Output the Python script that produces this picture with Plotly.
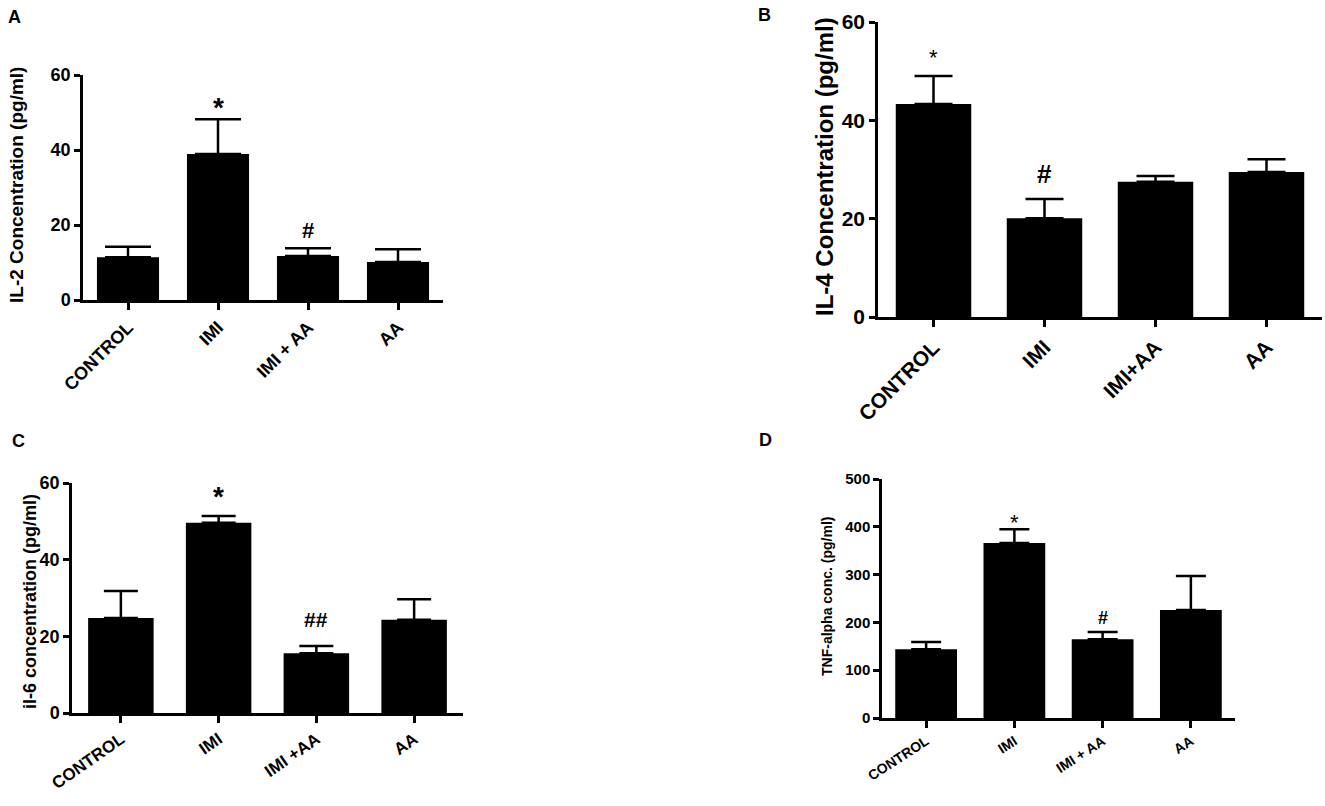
import plotly.graph_objects as go

# group labels (as printed under each panel)
groups_a = ["CONTROL", "IMI", "IMI + AA", "AA"]
groups_b = ["CONTROL", "IMI", "IMI+AA", "AA"]
groups_c = ["CONTROL", "IMI", "IMI +AA", "AA"]
groups_d = ["CONTROL", "IMI", "IMI + AA", "AA"]

# mean values and SEM
il2_mean = [11.4, 38.9, 11.7, 10.1]
il2_sem = [2.8, 9.3, 2.1, 3.4]
il4_mean = [43.3, 20.1, 27.5, 29.5]
il4_sem = [5.7, 3.9, 1.2, 2.6]
il6_mean = [24.8, 49.6, 15.6, 24.3]
il6_sem = [7.0, 1.8, 1.9, 5.4]
tnf_mean = [144, 366, 165, 226]
tnf_sem = [15, 29, 15, 71]

# significance marks
marks_a = ["", "*", "#", ""]
marks_b = ["*", "#", "", ""]
marks_c = ["", "*", "##", ""]
marks_d = ["", "*", "#", ""]

W, H = 1325, 806
FONT = "Liberation Sans, Arial, sans-serif"


def dom_x(a, b):
    return [a / W, b / W]


def dom_y(top, bottom):
    return [1 - bottom / H, 1 - top / H]


# panel settings: pixel box of the axes, fonts, bar width, error cap width
panels = [
    dict(groups=groups_a, mean=il2_mean, sem=il2_sem, marks=marks_a, box=(83, 443, 75, 300),
         ymax=60, dtick=20, title="IL-2 Concentration (pg/ml)", title_xy=(16, 185), title_size=19,
         ytick=18, xtick=18, angle=-45, bw=0.69, cap=23, mark_size=(28, 22), mark_shift=(-6, 3),
         letter="A", letter_xy=(15, 17)),
    dict(groups=groups_b, mean=il4_mean, sem=il4_sem, marks=marks_b, box=(878, 1322, 22, 317),
         ymax=60, dtick=20, title="IL-4 Concentration (pg/ml)", title_xy=(824, 167), title_size=24,
         ytick=21, xtick=21, angle=-45, bw=0.68, cap=19, mark_size=(22, 26), mark_shift=(4, 8),
         letter="B", letter_xy=(764, 15)),
    dict(groups=groups_c, mean=il6_mean, sem=il6_sem, marks=marks_c, box=(72, 463, 483, 713),
         ymax=60, dtick=20, title="il-6 concentration (pg/ml)", title_xy=(30, 602), title_size=18,
         ytick=18, xtick=17, angle=-35, bw=0.67, cap=17, mark_size=(28, 21), mark_shift=(2, 13),
         letter="C", letter_xy=(18, 441)),
    dict(groups=groups_d, mean=tnf_mean, sem=tnf_sem, marks=marks_d, box=(882, 1235, 479, 718),
         ymax=500, dtick=100, title="TNF-alpha conc. (pg/ml)", title_xy=(827, 597), title_size=14,
         ytick=15, xtick=14, angle=-33, bw=0.70, cap=15, mark_size=(22, 18), mark_shift=(-8, 2),
         letter="D", letter_xy=(765, 440)),
]

fig = go.Figure()
annotations = []
layout = {}

for i, p in enumerate(panels, start=1):
    xa = "x" if i == 1 else "x%d" % i
    ya = "y" if i == 1 else "y%d" % i
    x0, x1, y0, y1 = p["box"]

    fig.add_trace(go.Bar(
        x=p["groups"], y=p["mean"], xaxis=xa, yaxis=ya,
        marker=dict(color="black", line=dict(width=0)),
        width=p["bw"],
        error_y=dict(type="data", symmetric=False, array=p["sem"],
                     arrayminus=[0] * len(p["sem"]),
                     color="black", thickness=2.5, width=p["cap"]),
        showlegend=False, hoverinfo="x+y",
    ))

    layout["xaxis" if i == 1 else "xaxis%d" % i] = dict(
        domain=dom_x(x0, x1), anchor=ya, type="category",
        categoryorder="array", categoryarray=p["groups"],
        range=[-0.5, 3.5], showline=True, linecolor="black", linewidth=2.5,
        ticks="outside", ticklen=7, tickwidth=2.5, tickcolor="black",
        tickangle=p["angle"], showgrid=False, zeroline=False, automargin=False,
        tickfont=dict(family=FONT, size=p["xtick"], color="black", weight="bold"),
    )
    layout["yaxis" if i == 1 else "yaxis%d" % i] = dict(
        domain=dom_y(y0, y1), anchor=xa, range=[0, p["ymax"]],
        dtick=p["dtick"], tick0=0, showline=True, linecolor="black", linewidth=2.5,
        ticks="outside", ticklen=6, tickwidth=2.5, tickcolor="black",
        showgrid=False, zeroline=False, automargin=False,
        tickfont=dict(family=FONT, size=p["ytick"], color="black", weight="bold"),
    )

    # y axis title
    annotations.append(dict(
        text=p["title"], xref="paper", yref="paper",
        x=p["title_xy"][0] / W, y=1 - p["title_xy"][1] / H,
        textangle=-90, showarrow=False, xanchor="center", yanchor="middle",
        font=dict(family=FONT, size=p["title_size"], color="black", weight="bold"),
    ))
    # panel letter
    annotations.append(dict(
        text=p["letter"], xref="paper", yref="paper",
        x=p["letter_xy"][0] / W, y=1 - p["letter_xy"][1] / H,
        showarrow=False, xanchor="center", yanchor="middle",
        font=dict(family=FONT, size=18, color="black", weight="bold"),
    ))
    # significance marks above the error bars
    for g, m, s, mk in zip(p["groups"], p["mean"], p["sem"], p["marks"]):
        if not mk:
            continue
        star = mk == "*"
        annotations.append(dict(
            text=mk, xref=xa, yref=ya, x=g, y=m + s,
            showarrow=False, xanchor="center", yanchor="bottom",
            yshift=p["mark_shift"][0] if star else p["mark_shift"][1],
            font=dict(family=FONT, size=p["mark_size"][0] if star else p["mark_size"][1],
                      color="black", weight="normal" if (star and i in (2, 4)) else "bold"),
        ))

fig.update_layout(
    width=W, height=H, autosize=False,
    margin=dict(l=0, r=0, t=0, b=0, pad=0, autoexpand=False),
    paper_bgcolor="white", plot_bgcolor="white",
    annotations=annotations, bargap=0.3,
    **layout,
)

# drop the browser's default body margin so the figure starts at the page corner
fig.write_html("out.html", config={"displayModeBar": False},
               post_script="document.body.style.margin='0';")
